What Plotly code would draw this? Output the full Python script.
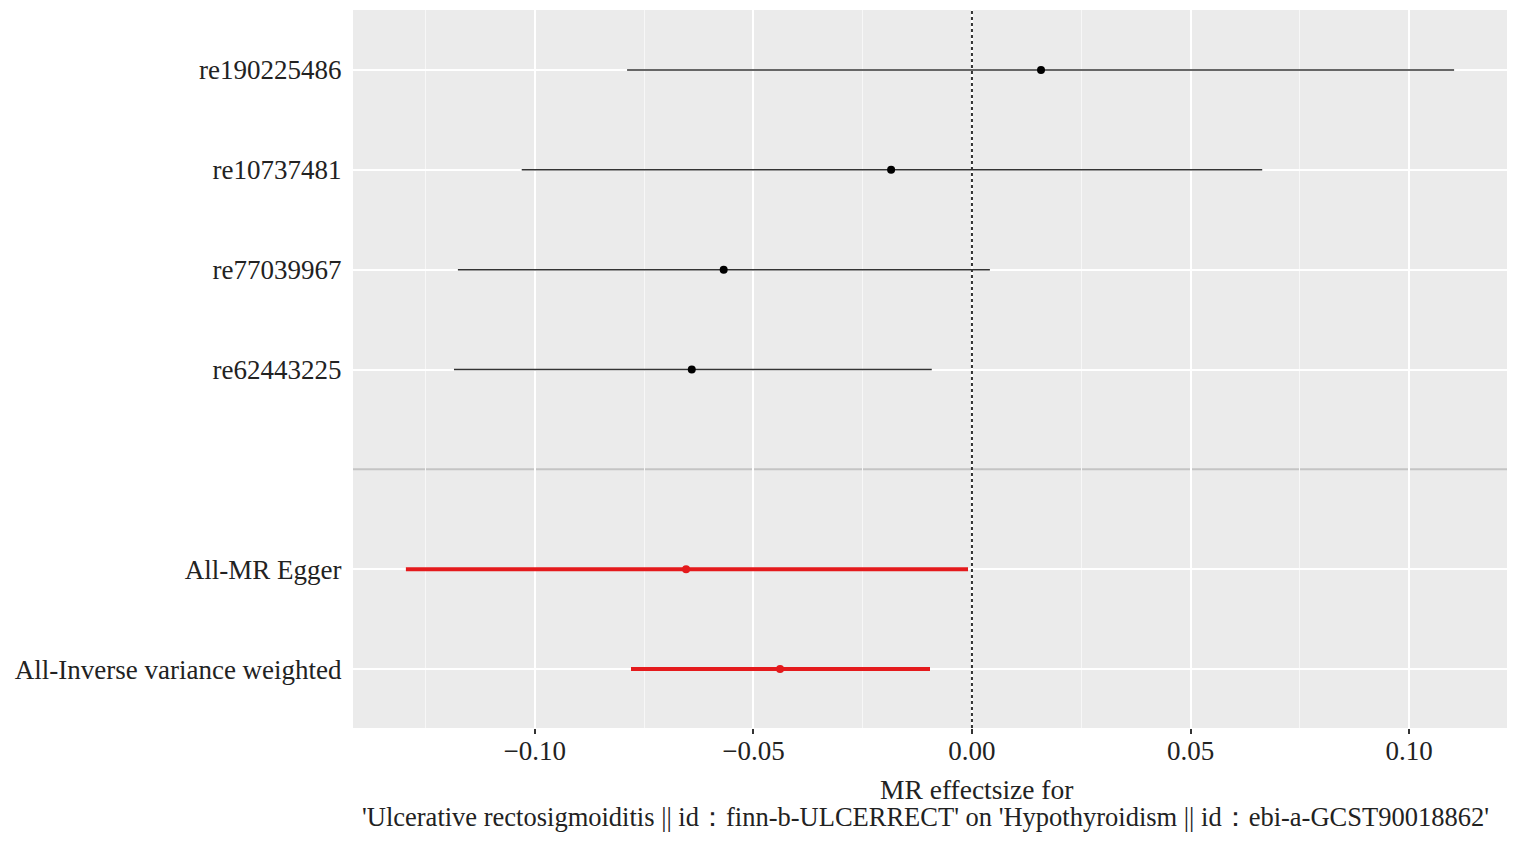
import plotly.graph_objects as go

snp_labels = ["re190225486", "re10737481", "re77039967", "re62443225"]
snp_b = [0.0158, -0.0185, -0.0568, -0.0641]
snp_lo = [-0.0789, -0.1030, -0.1176, -0.1185]
snp_hi = [0.1103, 0.0664, 0.0041, -0.0092]
snp_y = [7, 6, 5, 4]

all_labels = ["All-MR Egger", "All-Inverse variance weighted"]
all_b = [-0.0654, -0.0439]
all_lo = [-0.1295, -0.0780]
all_hi = [-0.0009, -0.0096]
all_y = [2, 1]

sep_y = 3

x_tickvals = [-0.10, -0.05, 0.00, 0.05, 0.10]
x_ticktext = ["\u22120.10", "\u22120.05", "0.00", "0.05", "0.10"]

title_line1 = "MR effectsize for"
title_line2 = "'Ulcerative rectosigmoiditis || id\uff1afinn-b-ULCERRECT' on 'Hypothyroidism || id\uff1aebi-a-GCST90018862'"

FONT = "Liberation Serif"

fig = go.Figure()

fig.add_trace(go.Scatter(
    x=snp_b, y=snp_y, mode="markers",
    marker=dict(color="black", size=8),
    error_x=dict(type="data", symmetric=False,
                 array=[h - b for h, b in zip(snp_hi, snp_b)],
                 arrayminus=[b - l for b, l in zip(snp_b, snp_lo)],
                 width=0, thickness=1.5, color="#333333"),
    showlegend=False, hoverinfo="skip"))

fig.add_trace(go.Scatter(
    x=all_b, y=all_y, mode="markers",
    marker=dict(color="#e41a1c", size=8),
    error_x=dict(type="data", symmetric=False,
                 array=[h - b for h, b in zip(all_hi, all_b)],
                 arrayminus=[b - l for b, l in zip(all_b, all_lo)],
                 width=0, thickness=4, color="#e41a1c"),
    showlegend=False, hoverinfo="skip"))

fig.add_shape(type="line", xref="paper", x0=0, x1=1, yref="y", y0=sep_y, y1=sep_y,
              line=dict(color="#c4c4c4", width=2), layer="below")
fig.add_shape(type="line", xref="x", x0=0, x1=0, yref="paper", y0=0, y1=1,
              line=dict(color="#333333", width=2, dash="dot"), layer="above")

fig.add_annotation(text=title_line1, xref="paper", yref="paper", x=0.54, y=-0.0850,
                   xanchor="center", yanchor="middle", showarrow=False,
                   font=dict(family=FONT, size=27.5, color="#222222"))
fig.add_annotation(text=title_line2, xref="paper", yref="paper", x=0.4957, y=-0.1240,
                   xanchor="center", yanchor="middle", showarrow=False,
                   font=dict(family=FONT, size=26.5, color="#222222"))

fig.update_layout(
    width=1506, height=825,
    margin=dict(l=345, r=7, t=2, b=105),
    paper_bgcolor="white", plot_bgcolor="#ebebeb",
    font=dict(family=FONT, size=27, color="#222222"),
    xaxis=dict(
        automargin=False,
        range=[-0.1416, 0.1224], tickvals=x_tickvals, ticktext=x_ticktext,
        showgrid=True, gridcolor="white", gridwidth=2, zeroline=False,
        ticks="outside", ticklen=5, tickwidth=2, tickcolor="#333333",
        ticklabelstandoff=-6,
        tickfont=dict(family=FONT, size=27, color="#222222"),
        minor=dict(tickvals=[-0.125, -0.075, -0.025, 0.025, 0.075, 0.125],
                   showgrid=True, gridcolor="#f7f7f7", gridwidth=1, ticks=""),
        showline=False,
    ),
    yaxis=dict(
        automargin=False,
        range=[0.41, 7.6], tickvals=snp_y + all_y, ticktext=snp_labels + all_labels,
        showgrid=True, gridcolor="white", gridwidth=2, zeroline=False,
        ticks="outside", ticklen=5, tickcolor="white", tickwidth=2,
        tickfont=dict(family=FONT, size=27, color="#222222"),
        showline=False,
    ),
)

fig.write_html("out.html")
